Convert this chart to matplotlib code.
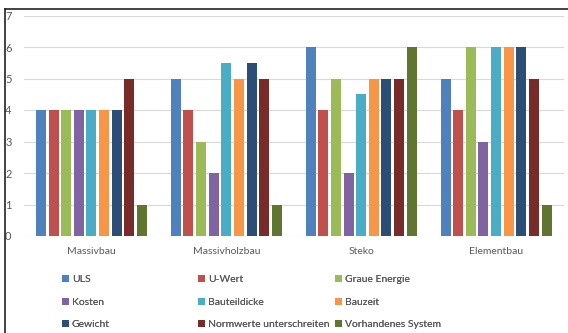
import matplotlib
matplotlib.use('Agg')
import matplotlib.pyplot as plt
from matplotlib.patches import Patch
from matplotlib.lines import Line2D
import numpy as np

categories = ['Massivbau', 'Massivholzbau', 'Steko', 'Elementbau']
series = ['ULS', 'U-Wert', 'Graue Energie', 'Kosten', 'Bauteildicke',
          'Bauzeit', 'Gewicht', 'Normwerte unterschreiten', 'Vorhandenes System']
values = [
    [4, 5, 6, 5],        # ULS
    [4, 4, 4, 4],        # U-Wert
    [4, 3, 5, 6],        # Graue Energie
    [4, 2, 2, 3],        # Kosten
    [4, 5.5, 4.5, 6],    # Bauteildicke
    [4, 5, 5, 6],        # Bauzeit
    [4, 5.5, 5, 6],      # Gewicht
    [5, 5, 5, 5],        # Normwerte unterschreiten
    [1, 1, 6, 1],        # Vorhandenes System
]
colors = ['#4F81BD', '#C0504D', '#9BBB59', '#8064A2', '#4BACC6',
          '#F79646', '#2C4D75', '#772C2A', '#5F7530']
yticks = [0, 1, 2, 3, 4, 5, 6, 7]

W, H = 568, 333
fig = plt.figure(figsize=(W / 100, H / 100), dpi=100)
plt.rcParams['font.family'] = ['Lato', 'DejaVu Sans']
txt_color = '#595959'
fs = 7.5

ax = fig.add_axes([24 / W, 1 - 236 / H, (563.5 - 24) / W, (236 - 15.5) / H])

x = np.arange(len(categories))
pitch = 0.0935
width = 0.0742
handles = []
for i, (name, vals) in enumerate(zip(series, values)):
    offset = (i - (len(series) - 1) / 2) * pitch
    ax.bar(x + offset, vals, width, color=colors[i], zorder=3)
    handles.append(Patch(facecolor=colors[i], label=name))

ax.set_xlim(-0.5, len(categories) - 0.5)
ax.set_ylim(0, 7)
ax.set_yticks(yticks)
ax.set_xticks(x)
ax.set_xticklabels(categories, fontsize=8)
ax.yaxis.grid(True, color='#D9D9D9', linewidth=0.8, zorder=0)
ax.set_axisbelow(True)
for s in ax.spines.values():
    s.set_visible(False)
ax.tick_params(axis='both', length=0, labelsize=fs, colors=txt_color)
ax.tick_params(axis='y', pad=9, labelsize=8)
ax.tick_params(axis='x', pad=8)

# legend: three columns, filled row by row
col_x = [62, 198, 335]
for c in range(3):
    hs = handles[c::3]
    leg = fig.legend(handles=hs, loc='upper left',
                     bbox_to_anchor=(col_x[c] / W, 1 - 275 / H),
                     frameon=False, fontsize=fs, labelcolor=txt_color,
                     handlelength=0.65, handleheight=0.65, handletextpad=0.3,
                     labelspacing=1.3, borderpad=0, borderaxespad=0)
    fig.add_artist(leg)

# outer frame lines
fig.add_artist(Line2D([4.5 / W, 1], [1 - 9 / H, 1 - 9 / H], color='#222222', lw=1.2))
fig.add_artist(Line2D([4.5 / W, 4.5 / W], [0, 1 - 9 / H], color='#222222', lw=1.2))

fig.savefig('out.png', dpi=100, facecolor='white')
